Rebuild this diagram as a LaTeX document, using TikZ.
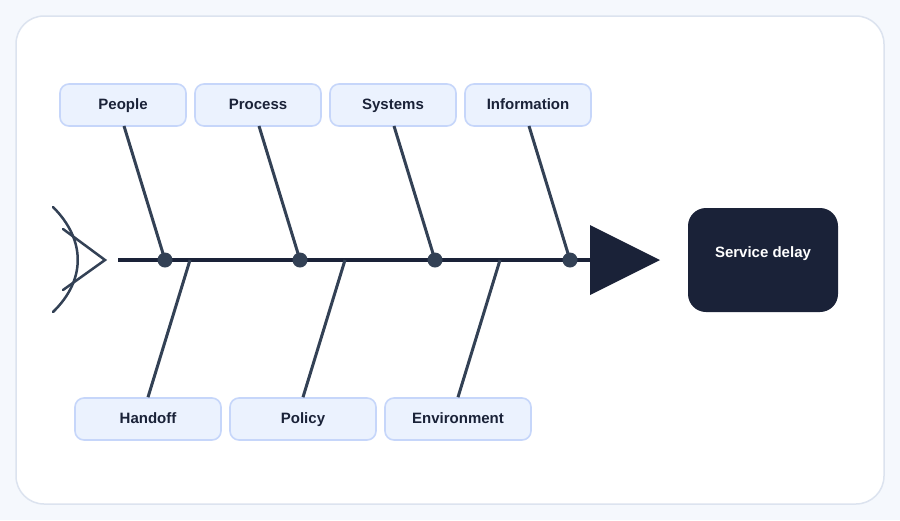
\documentclass[tikz,border=0pt]{standalone}
\usepackage{fontspec}
\setmainfont{Liberation Sans}
\definecolor{pagebg}{HTML}{F5F8FD}
\definecolor{cardedge}{HTML}{DCE3EF}
\definecolor{navy}{HTML}{1A2238}
\definecolor{bone}{HTML}{334155}
\definecolor{boxfill}{HTML}{EBF2FE}
\definecolor{boxedge}{HTML}{C6D6FA}
\begin{document}
\begin{tikzpicture}[x=1pt,y=-1pt,
  cause/.style={draw=boxedge,line width=1.6pt,fill=boxfill,rounded corners=9pt,
    minimum height=42pt,inner sep=0pt,text height=11pt,text depth=3pt,
    font=\fontsize{15}{18}\selectfont\bfseries,text=navy},
  topcause/.style={cause,minimum width=126pt},
  botcause/.style={cause,minimum width=146pt},
  bonestyle/.style={draw=bone,line width=3pt},
  joint/.style={circle,fill=bone,minimum size=15pt,inner sep=0pt}]
\fill[pagebg] (0,0) rectangle (900,520);
\useasboundingbox (0,0) rectangle (900,520);
\draw[cardedge,line width=1.5pt,fill=white,rounded corners=28pt] (16,16) rectangle (884,504);
% spine
\coordinate (tail) at (118,260);
\coordinate (neck) at (592,260);
\draw[navy,line width=4.5pt] (tail) -- (neck);
\fill[navy] (590,225) -- (660,260) -- (590,295) -- cycle;
% tail fin
\draw[bone,line width=2.5pt,line cap=round] (53,207) .. controls (86,240) and (86,280) .. (53,312);
\draw[bone,line width=2.5pt,line cap=round] (63,229) -- (105,260) -- (63,290);
% effect
\node[fill=navy,rounded corners=18pt,minimum width=150pt,minimum height=104pt,inner sep=0pt] (effect) at (763,260) {};
\node[text=white,font=\fontsize{15}{18}\selectfont\bfseries,text height=11pt,text depth=3pt] (effectlabel) at (763,253) {Service delay};
% top causes
\node[topcause] (people) at (123,105) {People};
\node[topcause] (process) at (258,105) {Process};
\node[topcause] (systems) at (393,105) {Systems};
\node[topcause] (information) at (528,105) {Information};
\coordinate (j1) at (165,260);
\coordinate (j2) at (300,260);
\coordinate (j3) at (435,260);
\coordinate (j4) at (570,260);
\draw[bonestyle] (124,126) -- (j1);
\draw[bonestyle] (259,126) -- (j2);
\draw[bonestyle] (394,126) -- (j3);
\draw[bonestyle] (529,126) -- (j4);
\node[joint] (d1) at (j1) {};
\node[joint] (d2) at (j2) {};
\node[joint] (d3) at (j3) {};
\node[joint] (d4) at (j4) {};
% bottom causes
\node[botcause] (handoff) at (148,419) {Handoff};
\node[botcause] (policy) at (303,419) {Policy};
\node[botcause] (environment) at (458,419) {Environment};
\coordinate (b1) at (190,260);
\coordinate (b2) at (345,260);
\coordinate (b3) at (500,260);
\draw[bonestyle] (handoff.north) -- (b1);
\draw[bonestyle] (policy.north) -- (b2);
\draw[bonestyle] (environment.north) -- (b3);
\end{tikzpicture}
\end{document}
